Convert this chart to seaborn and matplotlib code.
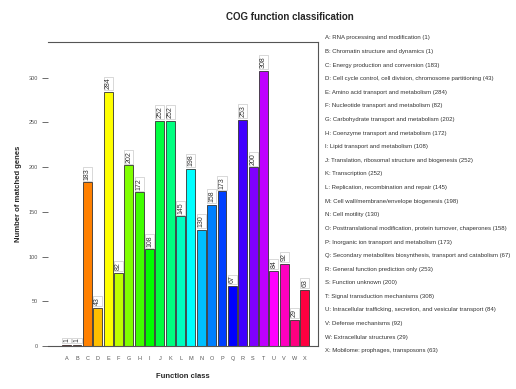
import matplotlib

matplotlib.use("Agg")
import matplotlib.pyplot as plt
import pandas as pd
import seaborn as sns

# COG classes, gene counts and descriptions
classes = list("ABCDEFGHIJKLMNOPQRSTUVWX")
counts = [1, 1, 183, 43, 284, 82, 202, 172, 108, 252, 252, 145,
          198, 130, 158, 173, 67, 253, 200, 308, 84, 92, 29, 63]
descriptions = [
    "RNA processing and modification",
    "Chromatin structure and dynamics",
    "Energy production and conversion",
    "Cell cycle control, cell division, chromosome partitioning",
    "Amino acid transport and metabolism",
    "Nucleotide transport and metabolism",
    "Carbohydrate transport and metabolism",
    "Coenzyme transport and metabolism",
    "Lipid transport and metabolism",
    "Translation, ribosomal structure and biogenesis",
    "Transcription",
    "Replication, recombination and repair",
    "Cell wall/membrane/envelope biogenesis",
    "Cell motility",
    "Posttranslational modification, protein turnover, chaperones",
    "Inorganic ion transport and metabolism",
    "Secondary metabolites biosynthesis, transport and catabolism",
    "General function prediction only",
    "Function unknown",
    "Signal transduction mechanisms",
    "Intracellular trafficking, secretion, and vesicular transport",
    "Defense mechanisms",
    "Extracellular structures",
    "Mobilome: prophages, transposons",
]
y_ticks = [0, 50, 100, 150, 200, 250, 300]

# rainbow palette, one colour per class
palette = ["#FF0000", "#FF4000", "#FF8000", "#FFBF00", "#FFFF00", "#BFFF00",
           "#80FF00", "#40FF00", "#00FF00", "#00FF40", "#00FF80", "#00FFBF",
           "#00FFFF", "#00BFFF", "#0080FF", "#0040FF", "#0000FF", "#4000FF",
           "#8000FF", "#BF00FF", "#FF00FF", "#FF00BF", "#FF0080", "#FF0040"]

df = pd.DataFrame({"cls": classes, "count": counts})

sns.set_style("white")
plt.rcParams["font.family"] = ["Liberation Sans", "DejaVu Sans"]

fig = plt.figure(figsize=(5.16, 3.89), dpi=100)
ax = fig.add_axes([0.093, 0.1105, 0.523, 0.7815])

sns.barplot(data=df, x="cls", y="count", hue="cls", palette=palette,
            legend=False, saturation=1, width=0.86, edgecolor="#333333",
            linewidth=0.6, ax=ax)

for i, v in enumerate(counts):
    ax.text(i, v + 3, str(v), rotation=90, ha="center", va="bottom",
            fontsize=5, color="#333333",
            bbox=dict(boxstyle="square,pad=0.15", facecolor="white",
                      edgecolor="#bbbbbb", linewidth=0.4))

ax.set_xlim(-1.8, 24.25)
ax.set_ylim(0, 340)
ax.set_yticks(y_ticks)
ax.set_yticklabels([str(t) for t in y_ticks], fontsize=4, color="#555555")
ax.tick_params(axis="y", length=4, width=0.6, color="#555555", pad=3, left=True)
ax.tick_params(axis="x", length=0, labelsize=4, labelcolor="#555555", pad=7)
for side in ["top", "right", "bottom"]:
    ax.spines[side].set_color("#555555")
    ax.spines[side].set_linewidth(0.8)
ax.spines["left"].set_visible(False)

ax.set_xlabel("Function class", fontsize=5.5, fontweight="bold", labelpad=9)
ax.set_ylabel("Number of matched genes", fontsize=5.5, fontweight="bold",
              labelpad=5)

fig.text(0.562, 1 - 17 / 389, "COG function classification",
         ha="center", va="center", fontsize=7, fontweight="bold")

for i, (c, d, v) in enumerate(zip(classes, descriptions, counts)):
    y = 38 + i * 13.6
    fig.text(325 / 516, 1 - y / 389, f"{c}: {d} ({v})",
             ha="left", va="center", fontsize=4.35, color="#333333")

fig.savefig("out.png", dpi=100)
plt.close(fig)
